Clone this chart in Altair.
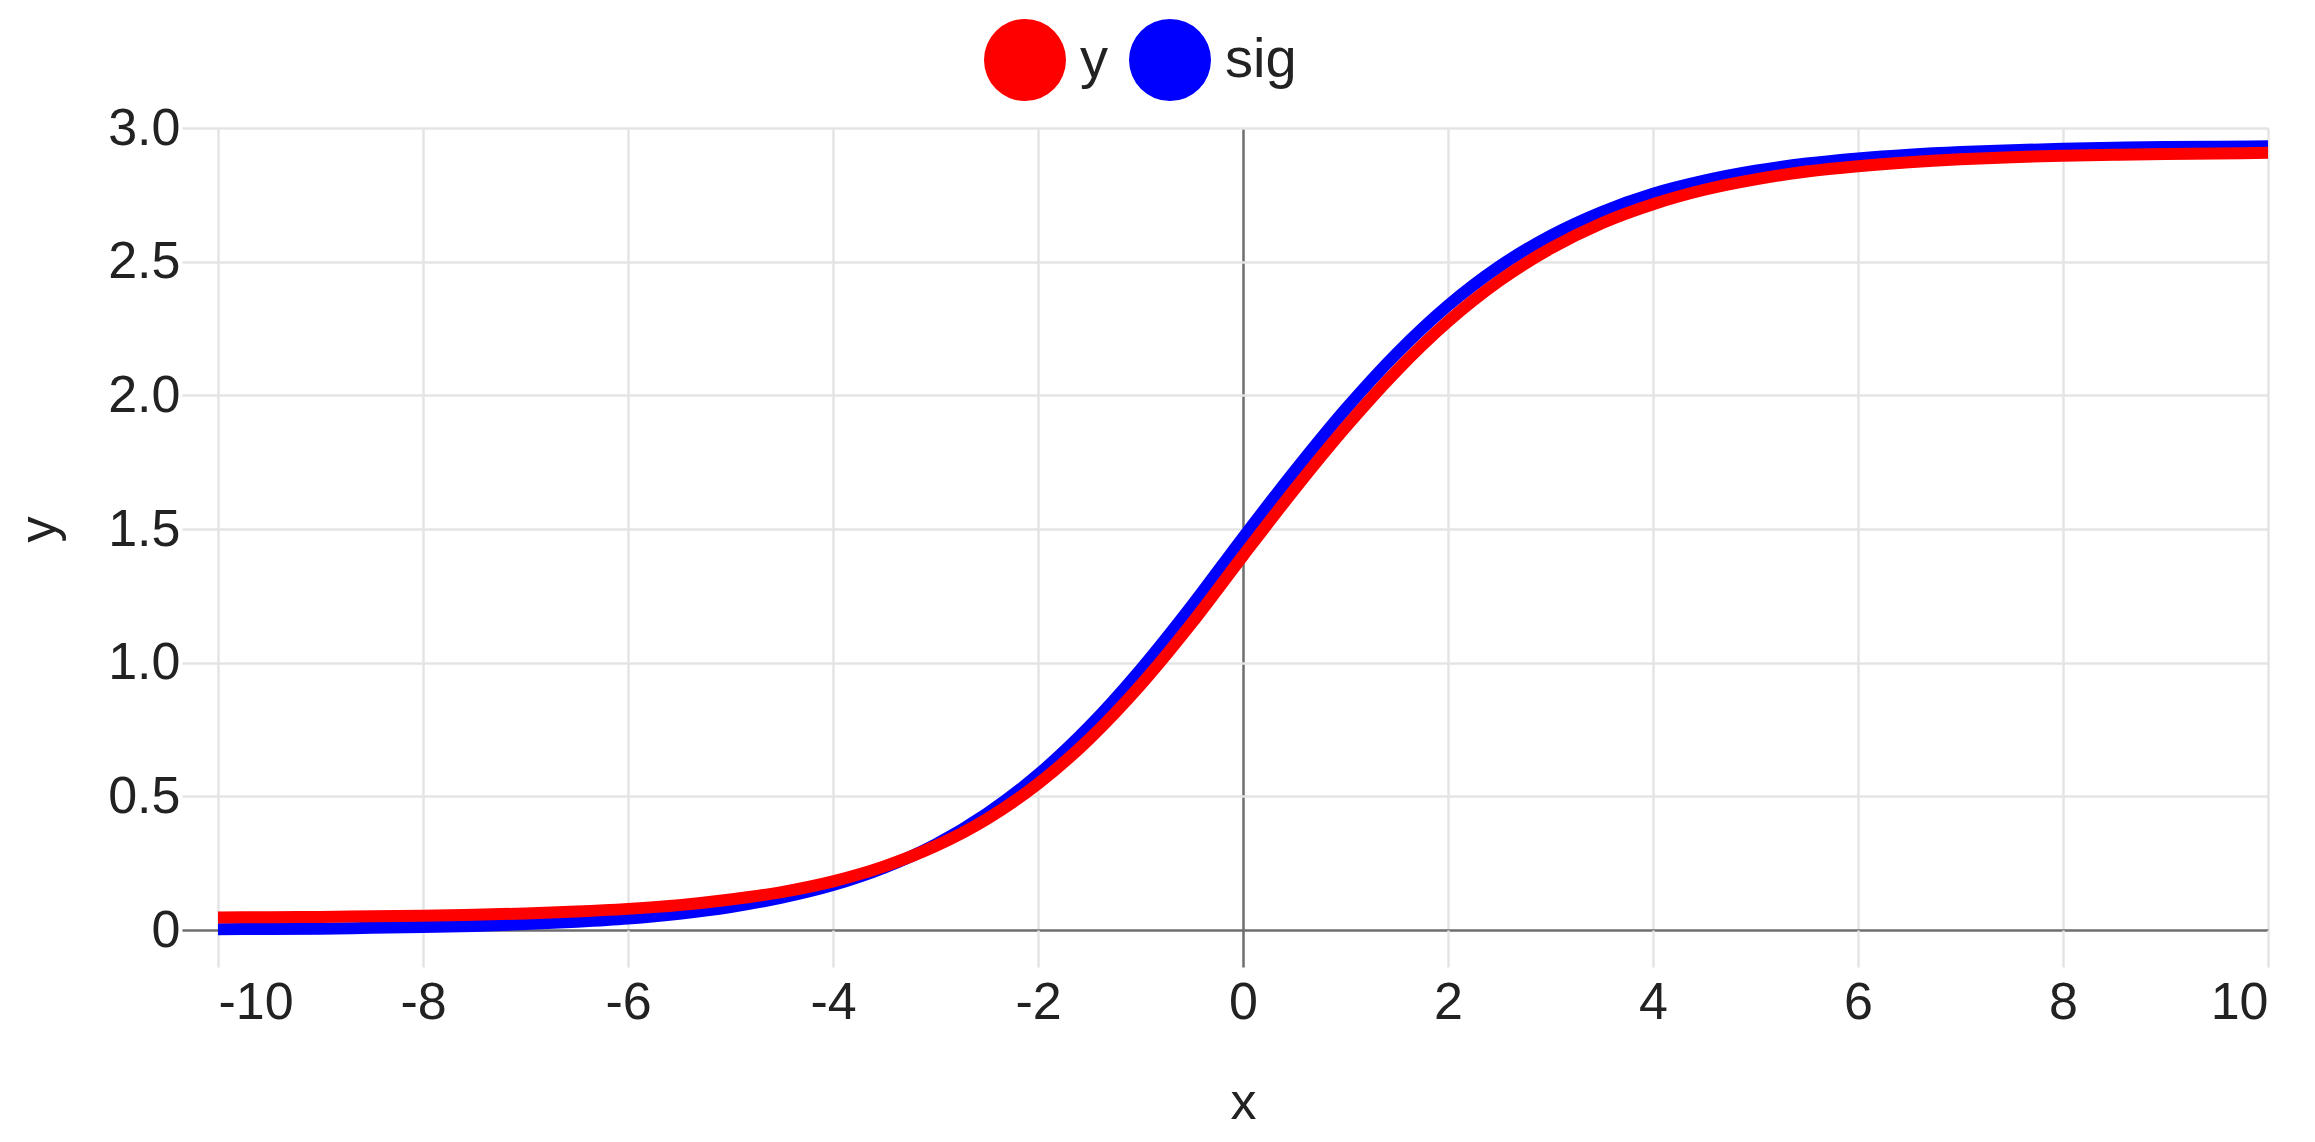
import altair as alt
import pandas as pd

# x positions (read every 0.5 unit)
x_vals = [-10, -9.5, -9, -8.5, -8, -7.5, -7, -6.5, -6, -5.5, -5, -4.5, -4, -3.5, -3,
          -2.5, -2, -1.5, -1, -0.5, 0, 0.5, 1, 1.5, 2, 2.5, 3, 3.5, 4, 4.5, 5,
          5.5, 6, 6.5, 7, 7.5, 8, 8.5, 9, 9.5, 10]

# red series "y"
y_vals = [0.047, 0.048, 0.049, 0.051, 0.053, 0.057, 0.062, 0.069, 0.079, 0.093, 0.114,
          0.142, 0.182, 0.238, 0.314, 0.415, 0.547, 0.714, 0.916, 1.148, 1.400,
          1.647, 1.880, 2.092, 2.276, 2.428, 2.549, 2.644, 2.715, 2.769, 2.808,
          2.837, 2.857, 2.872, 2.883, 2.891, 2.896, 2.900, 2.903, 2.905, 2.907]

# blue series "sig"
sig_vals = [0.003, 0.004, 0.005, 0.008, 0.011, 0.015, 0.022, 0.031, 0.043, 0.061, 0.086,
            0.121, 0.168, 0.233, 0.320, 0.435, 0.581, 0.761, 0.974, 1.213, 1.468,
            1.715, 1.948, 2.157, 2.336, 2.482, 2.597, 2.686, 2.754, 2.803, 2.840,
            2.867, 2.886, 2.900, 2.910, 2.917, 2.922, 2.926, 2.929, 2.930, 2.932]

series_names = ["y", "sig"]
series_colors = ["#ff0000", "#0000ff"]
x_ticks = [-10, -8, -6, -4, -2, 0, 2, 4, 6, 8, 10]
y_ticks = [0, 0.5, 1.0, 1.5, 2.0, 2.5, 3.0]

df_y = pd.DataFrame({"x": x_vals, "value": y_vals, "series": "y"})
df_sig = pd.DataFrame({"x": x_vals, "value": sig_vals, "series": "sig"})
df_all = pd.concat([df_y, df_sig], ignore_index=True)

FONT = "Liberation Sans"
GRID = "#e4e4e4"
ZERO = "#6e6e6e"
TEXT = "#222222"

color = alt.Color(
    "series:N",
    scale=alt.Scale(domain=series_names, range=series_colors),
    legend=alt.Legend(
        title=None,
        orient="none",
        direction="horizontal",
        legendX=766,
        legendY=-109,
        symbolType="circle",
        symbolSize=6724,
        symbolStrokeWidth=0,
        symbolOpacity=1,
        labelFontSize=56,
        labelFont=FONT,
        labelColor=TEXT,
        labelOffset=14,
        columnPadding=21,
        padding=0,
    ),
)

x_enc = alt.X(
    "x:Q",
    scale=alt.Scale(domain=[-10, 10], nice=False, zero=False),
    axis=alt.Axis(
        title="x",
        values=x_ticks,
        labelExpr="'' + datum.value",
        domain=False,
        grid=True,
        gridColor={"condition": {"test": "datum.value === 0", "value": ZERO}, "value": GRID},
        gridWidth=2.5,
        tickColor={"condition": {"test": "datum.value === 0", "value": ZERO}, "value": GRID},
        tickWidth=2.5,
        tickSize=37,
        labelPadding=10,
        labelFontSize=52,
        labelFont=FONT,
        labelColor=TEXT,
        titleFontSize=52,
        titleFont=FONT,
        titleColor=TEXT,
        titleFontWeight="normal",
        titleY=188,
        titleBaseline="alphabetic",
    ),
)

y_enc = alt.Y(
    "value:Q",
    scale=alt.Scale(domain=[0, 3], nice=False),
    axis=alt.Axis(
        title="y",
        values=y_ticks,
        labelExpr="datum.value === 0 ? '0' : format(datum.value, '.1f')",
        domain=False,
        grid=True,
        gridColor={"condition": {"test": "datum.value === 0", "value": ZERO}, "value": GRID},
        gridWidth=2.5,
        tickColor={"condition": {"test": "datum.value === 0", "value": ZERO}, "value": GRID},
        tickWidth=2.5,
        tickSize=36,
        labelPadding=2,
        labelFontSize=52,
        labelFont=FONT,
        labelColor=TEXT,
        titleFontSize=52,
        titleFont=FONT,
        titleColor=TEXT,
        titleFontWeight="normal",
        titleX=-180,
        titleBaseline="middle",
    ),
)

# invisible filled circles: carry the legend (filled circle symbols)
legend_layer = alt.Chart(df_all).mark_circle(opacity=0, size=10).encode(
    x=x_enc, y=y_enc, color=color
)
sig_line = alt.Chart(df_sig).mark_line(
    strokeWidth=12, interpolate="monotone", color=series_colors[1]
).encode(x=x_enc, y=y_enc)
y_line = alt.Chart(df_y).mark_line(
    strokeWidth=12, interpolate="monotone", color=series_colors[0]
).encode(x=x_enc, y=y_enc)

chart = (
    alt.layer(legend_layer, sig_line, y_line)
    .properties(
        width=2050,
        height=802,
        autosize=alt.AutoSizeParams(type="none"),
        padding={"left": 210, "top": 120, "right": 30, "bottom": 200},
    )
    .configure_view(stroke=None)
)

chart.save("out.html", embed_options={"renderer": "svg", "actions": False})
